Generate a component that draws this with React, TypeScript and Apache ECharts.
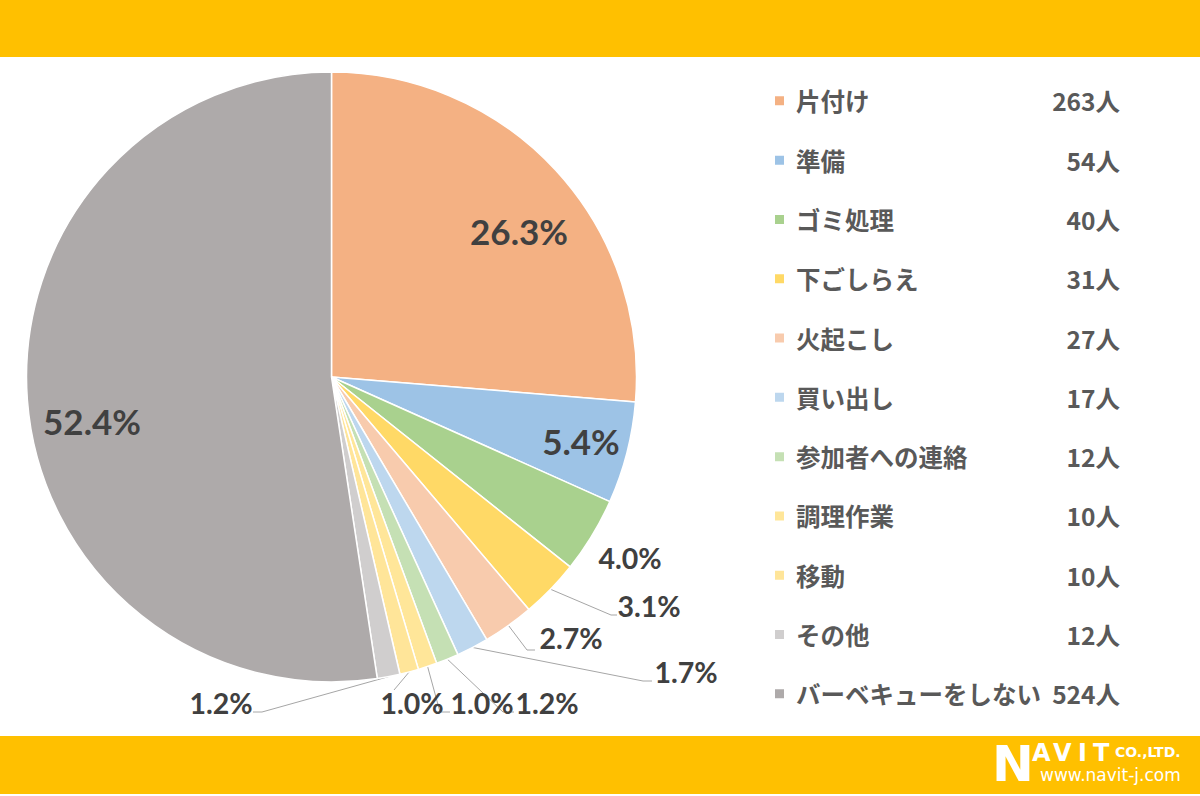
import React, { useEffect, useRef } from "react";
import * as echarts from "echarts";

const categories = [
  "片付け",
  "準備",
  "ゴミ処理",
  "下ごしらえ",
  "火起こし",
  "買い出し",
  "参加者への連絡",
  "調理作業",
  "移動",
  "その他",
  "バーベキューをしない",
];
const counts = [263, 54, 40, 31, 27, 17, 12, 10, 10, 12, 524];
const colors = [
  "#F4B183",
  "#9DC3E6",
  "#A9D18E",
  "#FFD966",
  "#F8CBAD",
  "#BDD7EE",
  "#C5E0B4",
  "#FFE699",
  "#FFE599",
  "#D0CECE",
  "#AEAAAA",
];
const unitLabel = "人";

// label placement (layout only): [x, y] text centre, line elbow/end or null
const labelSpots: number[][] = [
  [519, 231],
  [581, 441],
  [630, 558],
  [649, 606],
  [571, 638],
  [686, 672],
  [547, 703],
  [482, 703],
  [412, 703],
  [221, 703],
  [92, 421],
];
const lineEnds: (number[][] | null)[] = [
  null,
  null,
  null,
  [[611, 615], [617, 615]],
  [[527, 650], [535, 650]],
  [[643, 681], [652, 681]],
  [[503, 712], [514, 712]],
  [[440, 712], [450, 712]],
  [[394, 690]],
  [[262, 712], [253, 712]],
  null,
];
const insideIdx = [0, 1, 10];

export default function App() {
  const ref = useRef<HTMLDivElement>(null);
  useEffect(() => {
    if (!ref.current) return;
    const chart = echarts.init(ref.current, null, { renderer: "svg" });
    const total = counts.reduce((a, b) => a + b, 0);
    const countOf: Record<string, number> = {};
    categories.forEach((c, i) => (countOf[c] = counts[i]));

    const data = categories.map((name, i) => ({
      name,
      value: counts[i],
      itemStyle: { color: colors[i] },
      label: {
        fontSize: insideIdx.includes(i) ? 35 : 28.5,
      },
      labelLine: { show: lineEnds[i] != null },
    }));

    const white = "#ffffff";
    chart.setOption({
      animation: false,
      backgroundColor: "#ffffff",
      graphic: [
        { type: "rect", shape: { x: 0, y: 0, width: 1200, height: 57 }, style: { fill: "#FFC000" }, z: 0 },
        { type: "rect", shape: { x: 0, y: 736, width: 1200, height: 58 }, style: { fill: "#FFC000" }, z: 0 },
        { type: "text", x: 992, y: 739, style: { text: "N", fill: white, font: "900 50px 'DejaVu Sans'" } },
        { type: "text", x: 1032, y: 741, style: { text: "A", fill: white, font: "bold 24px 'DejaVu Sans'" } },
        { type: "text", x: 1053, y: 741, style: { text: "V", fill: white, font: "bold 24px 'DejaVu Sans'" } },
        { type: "text", x: 1078, y: 741, style: { text: "I", fill: white, font: "bold 24px 'DejaVu Sans'" } },
        { type: "text", x: 1093, y: 741, style: { text: "T", fill: white, font: "bold 24px 'DejaVu Sans'" } },
        { type: "text", x: 1115, y: 745, style: { text: "CO.,LTD.", fill: white, font: "bold 14px 'DejaVu Sans'" } },
        { type: "text", x: 1040, y: 766, style: { text: "www.navit-j.com", fill: white, font: "17px 'DejaVu Sans'" } },
      ],
      legend: {
        orient: "vertical",
        left: 773,
        top: 88.6,
        padding: 0,
        icon: "rect",
        itemWidth: 11,
        itemHeight: 11,
        itemGap: 34.8,
        selectedMode: false,
        data: categories,
        formatter: (name: string) => `{n|${name}}{v|${countOf[name]}${unitLabel}}`,
        textStyle: {
          rich: {
            n: {
              fontFamily: "'Noto Sans CJK JP'",
              fontSize: 24.5,
              fontWeight: "bold",
              color: "#595959",
              width: 250,
              padding: [0, 0, 0, 6],
            },
            v: {
              fontFamily: "'Noto Sans CJK JP'",
              fontSize: 24.5,
              fontWeight: "bold",
              color: "#595959",
              width: 74,
              align: "right",
            },
          },
        },
      },
      series: [
        {
          type: "pie",
          center: [331.5, 377],
          radius: 305,
          startAngle: 90,
          clockwise: true,
          avoidLabelOverlap: false,
          itemStyle: { borderColor: "#ffffff", borderWidth: 1.5 },
          label: {
            show: true,
            position: "outside",
            fontFamily: "Lato",
            fontWeight: "bold",
            color: "#404040",
            formatter: (p: any) => `${((p.value / total) * 100).toFixed(1)}%`,
          },
          labelLine: {
            length: 10,
            length2: 5,
            lineStyle: { color: "#A6A6A6", width: 1 },
          },
          labelLayout: (p: any) => {
            const i = p.dataIndex;
            const spot = labelSpots[i];
            const out: any = {
              x: spot[0],
              y: spot[1],
              align: "center",
              verticalAlign: "middle",
            };
            const ends = lineEnds[i];
            if (ends && p.labelLinePoints && p.labelLinePoints[0]) {
              const s = p.labelLinePoints[0];
              out.labelLinePoints = [[s[0], s[1]], ...ends.map((e) => [e[0], e[1]])];
            }
            return out;
          },
          emphasis: { disabled: true },
          data,
        },
      ],
    });
    return () => chart.dispose();
  }, []);
  return (
    <div
      ref={ref}
      style={{ position: "absolute", left: 0, top: 0, width: 1200, height: 796 }}
    />
  );
}
